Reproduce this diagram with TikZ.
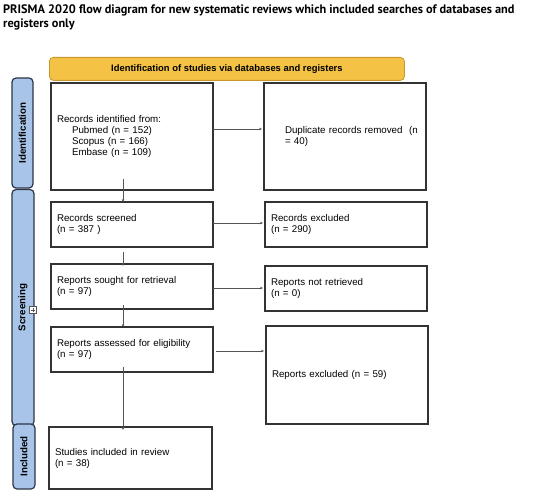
\documentclass[tikz,border=0pt]{standalone}
\usepackage{fontspec}
\setmainfont{Liberation Sans}
\newfontfamily\titlefont{PT Sans}
\usetikzlibrary{arrows.meta,calc}
\definecolor{bannerY}{HTML}{F4C245}
\definecolor{bannerB}{HTML}{C8962A}
\definecolor{barfill}{HTML}{A8C4E8}
\definecolor{bardraw}{HTML}{2B3648}
\definecolor{boxdraw}{HTML}{333333}
\definecolor{arrowc}{HTML}{555555}
\begin{document}
\begin{tikzpicture}[x=1bp,y=-1bp,
  box/.style={draw=boxdraw,line width=1.1bp,anchor=north west,inner xsep=6bp,inner ysep=0pt,
    outer sep=0pt,align=left,font=\fontsize{9.75bp}{11bp}\selectfont},
  bar/.style={draw=bardraw,fill=barfill,line width=1.2bp,rounded corners=4bp,rotate=90,
    inner sep=0pt,outer sep=0pt,font=\bfseries\fontsize{9.75bp}{11bp}\selectfont},
  arr/.style={draw=arrowc,line width=0.6bp,-{Stealth[length=3bp,width=2.6bp]}}]
\useasboundingbox (0,0) rectangle (550,497);

% title
\node[anchor=north west,inner sep=0pt,align=left,font=\titlefont\bfseries\fontsize{12.3bp}{13.8bp}\selectfont] (title) at (3,4.5)
  {PRISMA 2020 flow diagram for new systematic reviews which included searches of databases and\\registers only};

% banner
\node[draw=bannerB,fill=bannerY,line width=0.8bp,rounded corners=4bp,anchor=north west,
  minimum width=355bp,minimum height=23bp,inner sep=0pt,
  font=\bfseries\fontsize{9.4bp}{11bp}\selectfont] (banner) at (49,57)
  {Identification of studies via databases and registers};

% side bars
\node[bar,minimum width=110bp,minimum height=21bp] (idbar) at (22.5,133) {Identification};
\node[bar,minimum width=236bp,minimum height=22bp] (scbar) at (23,307.5) {Screening};
\node[bar,minimum width=65bp,minimum height=22bp] (inbar) at (24,456.5) {Included};

% expand icon
\node[draw=arrowc,fill=white,line width=0.5bp,minimum size=7bp,inner sep=0pt] (plus) at (33,310) {};
\draw[arrowc,line width=0.5bp] ([xshift=1.3bp]plus.west) -- ([xshift=-1.3bp]plus.east)
  ([yshift=-1.3bp]plus.north) -- ([yshift=1.3bp]plus.south);

% boxes
\node[box,minimum width=162bp,minimum height=107bp,text width=150bp] (rid) at (51,83)
  {Records identified from:\\
   \hspace*{15bp}Pubmed (n = 152)\\
   \hspace*{15bp}Scopus (n = 166)\\
   \hspace*{15bp}Embase (n = 109)};
\node[box,minimum width=162bp,minimum height=107bp,inner xsep=0pt,text width=162bp] (dup) at (264,83)
  {\hspace*{21bp}Duplicate records removed~~(n\\\hspace*{21bp}= 40)};
\node[box,minimum width=162bp,minimum height=45bp,text width=150bp] (rs) at (51,202)
  {Records screened\\(n = 387 )};
\node[box,minimum width=162bp,minimum height=45bp,text width=150bp] (rex) at (265,202)
  {Records excluded\\(n = 290)};
\node[box,minimum width=162bp,minimum height=45bp,text width=150bp] (rsr) at (51,264)
  {Reports sought for retrieval\\(n = 97)};
\node[box,minimum width=162bp,minimum height=45bp,text width=150bp] (rnr) at (265,266)
  {Reports not retrieved\\(n = 0)};
\node[box,minimum width=162bp,minimum height=45bp,text width=150bp] (rae) at (51,327)
  {Reports assessed for eligibility\\(n = 97)};
\node[box,minimum width=162bp,minimum height=98bp,text width=150bp] (rexc) at (266,326)
  {Reports excluded (n = 59)};
\node[box,minimum width=163bp,minimum height=62bp,text width=151bp] (inc) at (49,427)
  {Studies included in review\\(n = 38)\\[4bp]};

% vertical arrows (x = 123)
\coordinate (vx) at (123,0);
\draw[arr] ($(rid.south -| vx)+(0,-11)$) -- (rs.north -| vx);
\draw[arr] ($(rs.south -| vx)+(0,5)$) -- ($(rsr.north -| vx)+(0,2)$);
\draw[arr] ($(rsr.south -| vx)+(0,-4)$) -- (rae.north -| vx);
\draw[arr] ($(rae.south -| vx)+(0,-5)$) -- ($(inc.north -| vx)+(0,3)$);

% horizontal arrows
\draw[arr] (rid.east |- 0,129) -- ($(dup.west |- 0,129)+(-2,0)$);
\draw[arr] (rs.east |- 0,223) -- ($(rex.west |- 0,223)+(-2,0)$);
\draw[arr] (rsr.east |- 0,288) -- ($(rnr.west |- 0,288)+(-2,0)$);
\draw[arr] ($(rae.east |- 0,351)+(3,0)$) -- ($(rexc.west |- 0,351)+(-2,0)$);
\end{tikzpicture}
\end{document}
